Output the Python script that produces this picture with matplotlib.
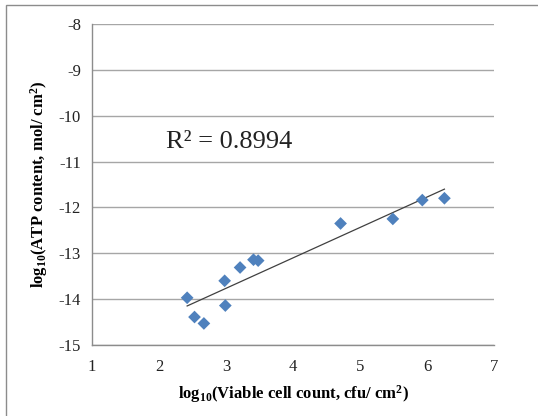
import matplotlib
matplotlib.use("Agg")
import matplotlib.pyplot as plt
import numpy as np
from matplotlib.patches import Rectangle

# log10 viable cell count (cfu/cm2) and log10 ATP content (mol/cm2)
log_cells = [2.42, 2.53, 2.67, 2.98, 2.99, 3.21, 3.41, 3.48, 4.71, 5.49, 5.93, 6.26]
log_atp = [-13.97, -14.39, -14.53, -13.60, -14.14, -13.31, -13.14, -13.16,
           -12.35, -12.25, -11.84, -11.80]
x_ticks = [1, 2, 3, 4, 5, 6, 7]
y_ticks = [-15, -14, -13, -12, -11, -10, -9, -8]
r2_label = "R\u00b2 = 0.8994"

plt.rcParams["font.family"] = ["Liberation Serif", "DejaVu Serif"]
plt.rcParams["axes.unicode_minus"] = False
plt.rcParams["mathtext.fontset"] = "custom"
plt.rcParams["mathtext.rm"] = "Liberation Serif"
plt.rcParams["mathtext.it"] = "Liberation Serif:italic"
plt.rcParams["mathtext.bf"] = "Liberation Serif:bold"

W, H = 538, 416
fig = plt.figure(figsize=(W / 100, H / 100), dpi=100)
ax = fig.add_axes([92 / W, 1 - 345 / H, (494 - 92) / W, (345 - 24) / H])

# outer chart border (runs off the right and bottom edges)
fig.patches.append(Rectangle((6 / W, -0.05), 1.2, 1 - 5 / H + 0.05,
                             transform=fig.transFigure, fill=False,
                             edgecolor="#8c8c8c", linewidth=1.0))

x = np.array(log_cells)
y = np.array(log_atp)
slope, intercept = np.polyfit(x, y, 1)
fit_x = np.array([x.min(), x.max()])
ax.plot(fit_x, slope * fit_x + intercept, color="#404040", linewidth=0.9, zorder=2)
ax.scatter(x, y, marker="D", s=42, color="#4f81bd", edgecolors="none", zorder=3)

ax.set_xlim(1, 7)
ax.set_ylim(-15, -8)
ax.set_xticks(x_ticks)
ax.set_yticks(y_ticks)
ax.set_xticklabels([str(v) for v in x_ticks])
ax.set_yticklabels([str(v) for v in y_ticks])
ax.tick_params(length=0, labelsize=12, pad=10, colors="#222222")
ax.tick_params(axis="y", pad=8)

ax.grid(axis="y", color="#a6a6a6", linewidth=1.0)
ax.set_axisbelow(True)
for side in ["top", "right"]:
    ax.spines[side].set_visible(False)
for side in ["left", "bottom"]:
    ax.spines[side].set_color("#8c8c8c")
    ax.spines[side].set_linewidth(1.0)

ax.set_xlabel(r"log$_\mathbf{10}$(Viable cell count, cfu/ cm$^\mathbf{2}$)", fontsize=12,
              fontweight="bold", labelpad=6)
ax.set_ylabel(r"log$_\mathbf{10}$(ATP content, mol/ cm$^\mathbf{2}$)", fontsize=12,
              fontweight="bold", labelpad=6)
ax.text(2.1, -10.70, r2_label, fontsize=19, color="#222222")

fig.savefig("out.png", dpi=100, facecolor="white")
